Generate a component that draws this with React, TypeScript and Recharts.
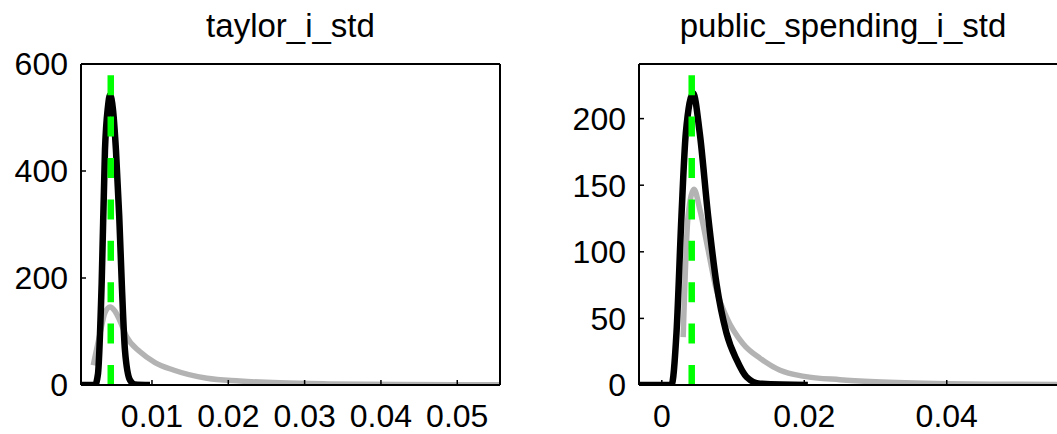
import { LineChart, Line, XAxis, YAxis } from "recharts";

// left panel: taylor_i_std
const taylorPostX = [0.00083, 0.00253, 0.00292, 0.00341, 0.00384, 0.00423, 0.0045, 0.00489, 0.00528, 0.00571, 0.00607, 0.00646, 0.00712, 0.00777, 0.00974];
const taylorPostY = [0, 0, 20, 191, 439, 520, 542, 515, 439, 315, 180, 65, 9, 1, 0];
const taylorPriorX = [0.00231, 0.00318, 0.00384, 0.0045, 0.00515, 0.0058, 0.00668, 0.00843, 0.0104, 0.0128, 0.0172, 0.0215, 0.0268, 0.0333, 0.0425, 0.0556];
const taylorPriorY = [37, 95, 135, 146, 138, 120, 90, 62, 42, 28, 12.5, 7.5, 4, 2, 0.8, 0.3];
const taylorMode = 0.0046;
const taylorModeTop = 580;
const taylorXTicks = [0.01, 0.02, 0.03, 0.04, 0.05];
const taylorYTicks = [0, 200, 400, 600];

// right panel: public_spending_i_std
const spendPostX = [-0.0032, 0.00136, 0.00206, 0.00276, 0.00337, 0.0044, 0.00533, 0.0065, 0.00768, 0.00908, 0.0105, 0.0119, 0.0138, 0.0205];
const spendPostY = [0, 0, 39, 127, 189, 219, 189, 127, 76, 39, 19, 6, 1, 0];
const spendPriorX = [0.003, 0.00369, 0.00453, 0.00533, 0.0065, 0.00768, 0.00908, 0.0114, 0.0138, 0.0166, 0.02, 0.025, 0.03, 0.04, 0.05, 0.058];
const spendPriorY = [36, 127, 147, 132, 101.5, 71, 51, 31, 20, 11, 6.5, 4, 2.5, 1, 0.5, 0.3];
const spendMode = 0.0042;
const spendModeTop = 233;
const spendXTicks = [0, 0.02, 0.04];
const spendYTicks = [0, 50, 100, 150, 200];

const font = "'Liberation Sans', Arial, sans-serif";
const tickStyle = { fontSize: 32, fill: "#000", fontFamily: font };
const axisLine = { stroke: "#000", strokeWidth: 2 };
const tickLine = { stroke: "#000", strokeWidth: 1.5 };

const pts = (xs: number[], ys: number[]) => xs.map((x, i) => ({ x, y: ys[i] }));

type PanelProps = {
  width: number;
  yAxisWidth: number;
  rightMargin: number;
  xDomain: [number, number];
  yDomain: [number, number];
  xTicks: number[];
  yTicks: number[];
  prior: { x: number; y: number }[];
  post: { x: number; y: number }[];
  mode: { x: number; y: number }[];
};

const Panel = ({ width, yAxisWidth, rightMargin, xDomain, yDomain, xTicks, yTicks, prior, post, mode }: PanelProps) => (
  <LineChart width={width} height={434} margin={{ top: 63, right: rightMargin, bottom: 0, left: 0 }}>
    <XAxis
      dataKey="x"
      type="number"
      domain={xDomain}
      ticks={xTicks}
      allowDataOverflow
      height={49}
      tickSize={-5}
      tickMargin={24}
      tick={tickStyle}
      axisLine={axisLine}
      tickLine={tickLine}
    />
    <XAxis
      xAxisId="top"
      dataKey="x"
      orientation="top"
      type="number"
      domain={xDomain}
      ticks={xTicks}
      allowDataOverflow
      height={1}
      tickSize={-5}
      tick={false}
      axisLine={axisLine}
      tickLine={tickLine}
    />
    <YAxis
      type="number"
      domain={yDomain}
      ticks={yTicks}
      allowDataOverflow
      width={yAxisWidth}
      tickSize={-5}
      tickMargin={18}
      tick={tickStyle}
      axisLine={axisLine}
      tickLine={tickLine}
    />
    <YAxis
      yAxisId="right"
      orientation="right"
      type="number"
      domain={yDomain}
      ticks={yTicks}
      allowDataOverflow
      width={1}
      tickSize={-5}
      tick={false}
      axisLine={axisLine}
      tickLine={tickLine}
    />
    {/* invisible series so the top and right frame axes get drawn */}
    <Line data={prior} xAxisId="top" yAxisId="right" dataKey="y" stroke="none" dot={false} activeDot={false} isAnimationActive={false} />
    <Line data={prior} dataKey="y" type="monotone" stroke="#b3b3b3" strokeWidth={5.5} dot={false} activeDot={false} isAnimationActive={false} />
    <Line data={post} dataKey="y" type="monotone" stroke="#000000" strokeWidth={6.5} dot={false} activeDot={false} isAnimationActive={false} />
    <Line data={mode} dataKey="y" type="linear" stroke="#00ff00" strokeWidth={6.5} strokeDasharray="20 21.4" dot={false} activeDot={false} isAnimationActive={false} />
  </LineChart>
);

const titleStyle = (center: number) => ({
  position: "absolute" as const,
  left: center - 200,
  top: 9,
  width: 400,
  textAlign: "center" as const,
  fontFamily: font,
  fontSize: 33,
  lineHeight: "33px",
  color: "#000",
});

export default function App() {
  return (
    <div style={{ position: "absolute", left: 0, top: 0, width: 1057, height: 434, overflow: "hidden", background: "#fff" }}>
      <div style={titleStyle(290.5)}>taylor_i_std</div>
      <div style={titleStyle(843)}>public_spending_i_std</div>
      <div style={{ position: "absolute", left: 0, top: 0 }}>
        <Panel
          width={520}
          yAxisWidth={81}
          rightMargin={19}
          xDomain={[0.0007, 0.0556]}
          yDomain={[0, 600]}
          xTicks={taylorXTicks}
          yTicks={taylorYTicks}
          prior={pts(taylorPriorX, taylorPriorY)}
          post={pts(taylorPostX, taylorPostY)}
          mode={[{ x: taylorMode, y: 0 }, { x: taylorMode, y: taylorModeTop }]}
        />
      </div>
      <div style={{ position: "absolute", left: 560, top: 0 }}>
        <Panel
          width={520}
          yAxisWidth={79}
          rightMargin={4}
          xDomain={[-0.0032, 0.058]}
          yDomain={[0, 241]}
          xTicks={spendXTicks}
          yTicks={spendYTicks}
          prior={pts(spendPriorX, spendPriorY)}
          post={pts(spendPostX, spendPostY)}
          mode={[{ x: spendMode, y: 0 }, { x: spendMode, y: spendModeTop }]}
        />
      </div>
    </div>
  );
}
